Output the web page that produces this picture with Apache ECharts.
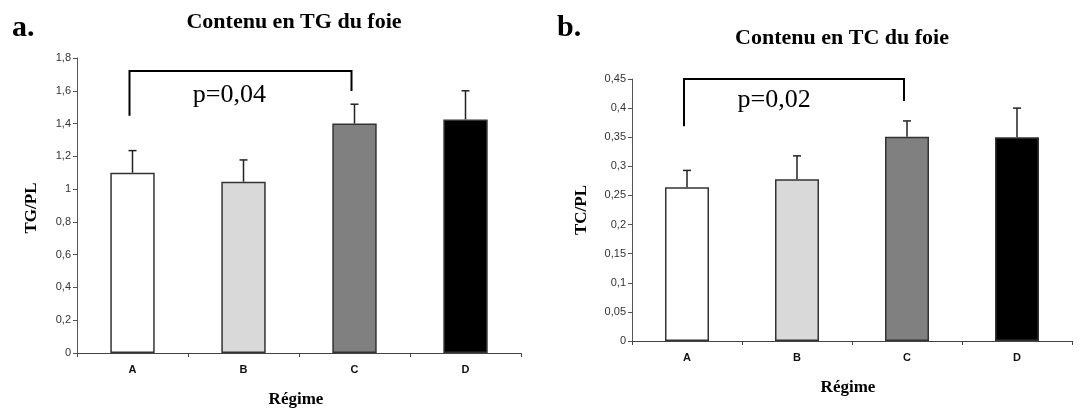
<!DOCTYPE html>
<html>
<head>
<meta charset="utf-8">
<script src="https://cdn.jsdelivr.net/npm/echarts@6/dist/echarts.min.js"></script>
<style>
html,body{margin:0;padding:0;background:#fff;}
#chart{width:1082px;height:412px;}
</style>
</head>
<body>
<div id="chart"></div>
<script>
// ---- data ----
const categories = ['A', 'B', 'C', 'D'];
const barColors = ['#ffffff', '#d9d9d9', '#808080', '#000000'];

const tgMeans = [1.10, 1.045, 1.40, 1.425];
const tgErrTop = [1.235, 1.178, 1.518, 1.60];
const tgBracket = [0, 2, 1.447, 1.598, 1.72]; // from cat, to cat, left arm end, right arm end, top
const tgPText = 'p=0,04';
const tgPTextY = 1.575;

const tcMeans = [0.264, 0.278, 0.351, 0.350];
const tcErrTop = [0.293, 0.318, 0.378, 0.400];
const tcBracket = [0, 2, 0.369, 0.412, 0.45];
const tcPText = 'p=0,02';
const tcPTextY = 0.414;

const tgTicks = { min: 0, max: 1.8, interval: 0.2 };
const tcTicks = { min: 0, max: 0.45, interval: 0.05 };

// ---- chart ----
const serif = '"Liberation Serif", "Times New Roman", serif';
const sans = '"Liberation Sans", Arial, sans-serif';
const fmt = v => String(+v.toFixed(2)).replace('.', ',');

function barData(vals) {
  return vals.map((v, i) => ({
    value: v,
    itemStyle: { color: barColors[i], borderColor: '#333', borderWidth: 1.5 }
  }));
}
function errData(means, tops) {
  return means.map((m, i) => [i, m, tops[i]]);
}
function renderErr(params, api) {
  const b = api.coord([api.value(0), api.value(1)]);
  const t = api.coord([api.value(0), api.value(2)]);
  const st = { stroke: '#222', lineWidth: 1.5 };
  return {
    type: 'group',
    children: [
      { type: 'line', shape: { x1: b[0], y1: b[1], x2: t[0], y2: t[1] }, style: st },
      { type: 'line', shape: { x1: t[0] - 4, y1: t[1], x2: t[0] + 4, y2: t[1] }, style: st }
    ]
  };
}
function bracketRenderer(text, textY, frac) {
  return function (params, api) {
    const c1 = api.value(0), c2 = api.value(1);
    const pl = api.coord([c1, api.value(2)]);
    const pr = api.coord([c2, api.value(3)]);
    const ptl = api.coord([c1, api.value(4)]);
    const ptr = api.coord([c2, api.value(4)]);
    const ty = api.coord([c1, textY])[1];
    const xl = pl[0] - 3, xr = pr[0] - 3;
    return {
      type: 'group',
      children: [
        { type: 'polyline', shape: { points: [[xl, pl[1]], [xl, ptl[1]], [xr, ptr[1]], [xr, pr[1]]] },
          style: { stroke: '#000', lineWidth: 2, fill: null } },
        { type: 'text', style: { text: text, x: xl + (xr - xl) * frac, y: ty,
          align: 'center', verticalAlign: 'middle', font: '26px ' + serif, fill: '#000' } }
      ]
    };
  };
}

function xAxisCfg(gridIndex) {
  return {
    type: 'category', gridIndex: gridIndex, data: categories,
    axisLine: { lineStyle: { color: '#444', width: 1.2 } },
    axisTick: { show: true, length: 4, lineStyle: { color: '#444' } },
    axisLabel: { fontFamily: sans, fontWeight: 'bold', fontSize: 11, color: '#111', margin: 11 }
  };
}
function yAxisCfg(gridIndex, t) {
  return {
    type: 'value', gridIndex: gridIndex, min: t.min, max: t.max, interval: t.interval,
    splitLine: { show: false },
    axisLine: { show: true, lineStyle: { color: '#555', width: 1 } },
    axisTick: { show: true, length: 4, inside: false, lineStyle: { color: '#555' } },
    axisLabel: { fontFamily: sans, fontSize: 11, color: '#333', margin: 6, formatter: fmt }
  };
}

const chart = echarts.init(document.getElementById('chart'), null, { renderer: 'canvas' });
chart.setOption({
  animation: false,
  backgroundColor: '#fff',
  grid: [
    { left: 77, top: 58, width: 444, height: 295 },
    { left: 632, top: 79, width: 440, height: 262 }
  ],
  xAxis: [xAxisCfg(0), xAxisCfg(1)],
  yAxis: [yAxisCfg(0, tgTicks), yAxisCfg(1, tcTicks)],
  graphic: [
    { type: 'text', left: 12, top: 13, style: { text: 'a.', font: 'bold 30px ' + serif, fill: '#000' } },
    { type: 'text', left: 557, top: 13, style: { text: 'b.', font: 'bold 30px ' + serif, fill: '#000' } },
    { type: 'text', x: 294, y: 22, style: { text: 'Contenu en TG du foie', font: 'bold 22px ' + serif, fill: '#000', align: 'center', verticalAlign: 'middle' } },
    { type: 'text', x: 842, y: 38, style: { text: 'Contenu en TC du foie', font: 'bold 22px ' + serif, fill: '#000', align: 'center', verticalAlign: 'middle' } },
    { type: 'text', x: 32, y: 208, rotation: Math.PI / 2, style: { text: 'TG/PL', font: 'bold 17px ' + serif, fill: '#000', align: 'center', verticalAlign: 'middle' } },
    { type: 'text', x: 582, y: 210, rotation: Math.PI / 2, style: { text: 'TC/PL', font: 'bold 17px ' + serif, fill: '#000', align: 'center', verticalAlign: 'middle' } },
    { type: 'text', x: 296, y: 400, style: { text: 'Régime', font: 'bold 17px ' + serif, fill: '#000', align: 'center', verticalAlign: 'middle' } },
    { type: 'text', x: 848, y: 388, style: { text: 'Régime', font: 'bold 17px ' + serif, fill: '#000', align: 'center', verticalAlign: 'middle' } }
  ],
  series: [
    { type: 'custom', xAxisIndex: 0, yAxisIndex: 0, data: errData(tgMeans, tgErrTop), renderItem: renderErr, z: 1 },
    { type: 'bar', xAxisIndex: 0, yAxisIndex: 0, data: barData(tgMeans), barWidth: '40%', z: 2 },
    { type: 'custom', xAxisIndex: 0, yAxisIndex: 0, data: [tgBracket], renderItem: bracketRenderer(tgPText, tgPTextY, 0.45), z: 3 },
    { type: 'custom', xAxisIndex: 1, yAxisIndex: 1, data: errData(tcMeans, tcErrTop), renderItem: renderErr, z: 1 },
    { type: 'bar', xAxisIndex: 1, yAxisIndex: 1, data: barData(tcMeans), barWidth: '40%', z: 2 },
    { type: 'custom', xAxisIndex: 1, yAxisIndex: 1, data: [tcBracket], renderItem: bracketRenderer(tcPText, tcPTextY, 0.41), z: 3 }
  ]
});
</script>
</body>
</html>
